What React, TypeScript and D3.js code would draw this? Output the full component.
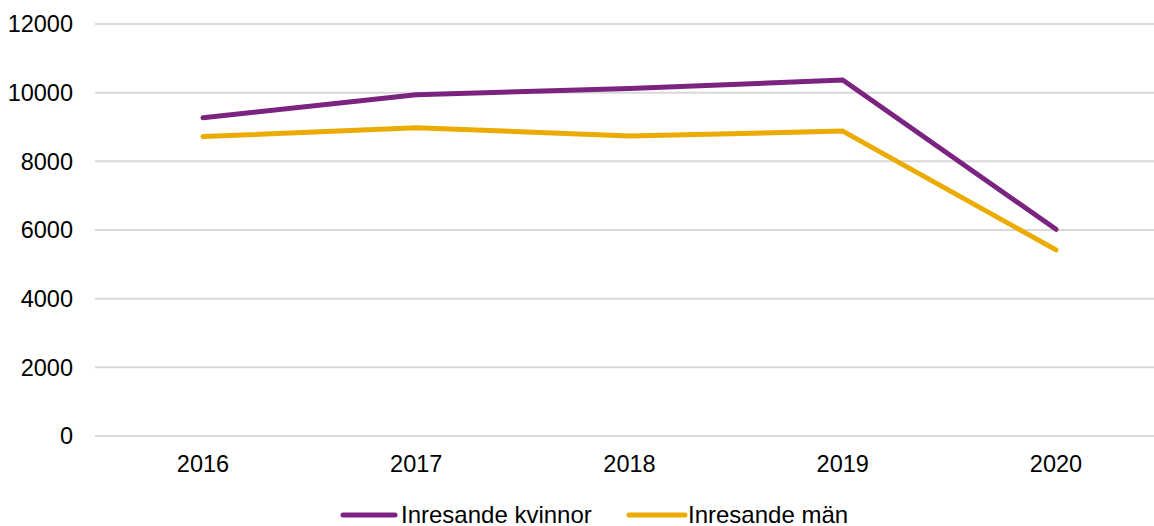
import React from "react";
import * as d3 from "d3";

const years = ["2016", "2017", "2018", "2019", "2020"];
const kvinnor = [9270, 9940, 10120, 10370, 6020];
const man = [8720, 8980, 8740, 8880, 5420];
const yTicks = [0, 2000, 4000, 6000, 8000, 10000, 12000];
const seriesNames = ["Inresande kvinnor", "Inresande män"];
const colors = ["#7B2381", "#EBAB00"];

const W = 1154;
const H = 526;
const FONT = "'Liberation Sans', Arial, sans-serif";

export default function App() {
  const x = d3.scalePoint<string>().domain(years).range([203, 1056]);
  const y = d3.scaleLinear().domain([0, 12000]).range([436, 24]);
  const line = d3
    .line<number>()
    .x((_, i) => x(years[i]) as number)
    .y((d) => y(d));
  const series = [kvinnor, man];
  const legendX = [[343, 395, 401], [629, 685, 688]];
  return (
    <svg
      width={W}
      height={H}
      style={{ position: "absolute", left: 0, top: 0, background: "#fff" }}
      fontFamily={FONT}
    >
      {yTicks.map((t) => (
        <g key={t}>
          <line x1={95} x2={W} y1={y(t)} y2={y(t)} stroke="#D9D9D9" strokeWidth={2} />
          <text x={73} y={y(t)} dy="0.35em" textAnchor="end" fontSize={23.5} fill="#000">
            {t}
          </text>
        </g>
      ))}
      {years.map((yr) => (
        <text key={yr} x={x(yr)} y={472} textAnchor="middle" fontSize={23.5} fill="#000">
          {yr}
        </text>
      ))}
      {series.map((s, i) => (
        <path
          key={i}
          d={line(s) || ""}
          fill="none"
          stroke={colors[i]}
          strokeWidth={5}
          strokeLinecap="round"
          strokeLinejoin="round"
        />
      ))}
      {seriesNames.map((n, i) => (
        <g key={n}>
          <line
            x1={legendX[i][0]}
            x2={legendX[i][1]}
            y1={515}
            y2={515}
            stroke={colors[i]}
            strokeWidth={5}
            strokeLinecap="round"
          />
          <text x={legendX[i][2]} y={523} fontSize={24} fill="#000">
            {n}
          </text>
        </g>
      ))}
    </svg>
  );
}
